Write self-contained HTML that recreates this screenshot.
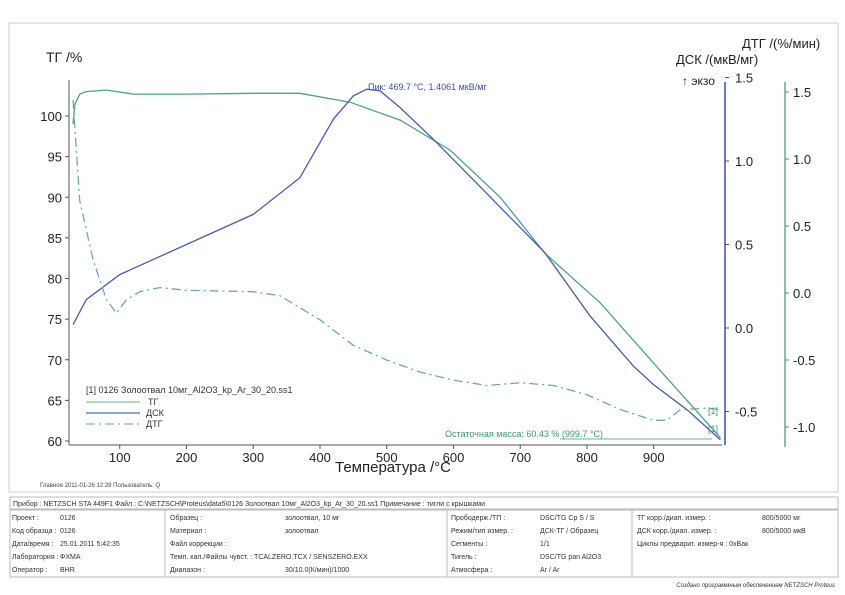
<!DOCTYPE html>
<html><head><meta charset="utf-8"><style>
body{margin:0;background:#fff;width:845px;height:595px;overflow:hidden;font-family:"Liberation Sans","DejaVu Sans",sans-serif}
svg{position:absolute;left:0;top:0}
</style></head><body>
<svg id="c" width="845" height="595" font-family="Liberation Sans, DejaVu Sans, sans-serif">
<rect x="9" y="23" width="829" height="469" fill="none" stroke="#ccc"/>
<text x="46" y="62" font-size="14" fill="#222">ТГ /%</text>
<text x="742" y="48" font-size="13" fill="#222">ДТГ /(%/мин)</text>
<text x="676" y="64" font-size="13" fill="#222">ДСК /(мкВ/мг)</text>
<text x="682" y="85" font-size="12" fill="#222">↑ экзо</text>
<text x="335" y="472" font-size="15" fill="#222">Температура /°C</text>
<text x="40" y="487" font-size="6" fill="#444">Главное   2011-01-26 12:28   Пользователь: Q</text>
<g id="axes"></g><g id="marks"></g>
<text x="368" y="90" font-size="9" fill="#3a4fa8">Пик: 469.7 °C, 1.4061 мкВ/мг</text>
<text x="445" y="437" font-size="9" fill="#3a9a7a">Остаточная масса: 60.43 % (999.7 °C)</text>
<line x1="560" y1="439" x2="712" y2="439" stroke="#3a9a7a" stroke-width="0.8"/>
<text x="708" y="414" font-size="9" fill="#3a9a7a">[1]</text>
<text x="708" y="432" font-size="9" fill="#3a9a7a">[1]</text>
<g font-size="9" fill="#333">
<text x="86" y="393">[1] 0126 Золоотвал 10мг_Al2O3_kp_Ar_30_20.ss1</text>
<line x1="86" y1="402" x2="140" y2="402" stroke="#7fc4a4" stroke-width="1.2"/><text x="148" y="405">ТГ</text>
<line x1="86" y1="413" x2="140" y2="413" stroke="#5a6ab0" stroke-width="1.2"/><text x="146" y="416">ДСК</text>
<line x1="86" y1="424" x2="140" y2="424" stroke="#7fb8a0" stroke-width="1.2" stroke-dasharray="9,4,2,4"/><text x="146" y="427">ДТГ</text>
</g>
<g font-size="7" fill="#333">
<rect x="10" y="497" width="828" height="12" fill="none" stroke="#bbb"/>
<text x="13" y="506">Прибор : NETZSCH STA 449F1  Файл : C:\NETZSCH\Proteus\data5\0126 Золоотвал 10мг_Al2O3_kp_Ar_30_20.ss1  Примечание : тигли с крышками</text>
<rect x="10" y="510" width="828" height="67" fill="none" stroke="#bbb"/>
<line x1="165" y1="510" x2="165" y2="577" stroke="#bbb"/><line x1="447" y1="510" x2="447" y2="577" stroke="#bbb"/><line x1="632" y1="510" x2="632" y2="577" stroke="#bbb"/>
<text x="12" y="520">Проект :</text><text x="60" y="520">0126</text>
<text x="12" y="533">Код образца :</text><text x="60" y="533">0126</text>
<text x="12" y="546">Дата/время :</text><text x="60" y="546">25.01.2011 5:42:35</text>
<text x="12" y="559">Лаборатория :</text><text x="60" y="559">ФХМА</text>
<text x="12" y="572">Оператор :</text><text x="60" y="572">ВНR</text>
<text x="170" y="520">Образец :</text><text x="285" y="520">золоотвал, 10 мг</text>
<text x="170" y="533">Материал :</text><text x="285" y="533">золоотвал</text>
<text x="170" y="546">Файл коррекции :</text>
<text x="170" y="559">Темп. кал./Файлы чувст. :  TCALZERO.TCX / SENSZERO.EXX</text>
<text x="170" y="572">Диапазон :</text><text x="285" y="572">30/10.0(К/мин)/1000</text>
<text x="451" y="520">Прободерж./ТП :</text><text x="540" y="520">DSC/TG Cp S / S</text>
<text x="451" y="533">Режим/тип измер. :</text><text x="540" y="533">ДСК-ТГ / Образец</text>
<text x="451" y="546">Сегменты :</text><text x="540" y="546">1/1</text>
<text x="451" y="559">Тигель :</text><text x="540" y="559">DSC/TG pan Al2O3</text>
<text x="451" y="572">Атмосфера :</text><text x="540" y="572">Ar / Ar</text>
<text x="637" y="520">ТГ корр./диап. измер. :</text><text x="762" y="520">800/5000 мг</text>
<text x="637" y="533">ДСК корр./диап. измер. :</text><text x="762" y="533">800/5000 мкВ</text>
<text x="637" y="546">Циклы предварит. измер-я : 0хВак</text>
<text x="835" y="587" font-size="6" font-style="italic" text-anchor="end">Создано программным обеспечением NETZSCH Proteus</text>
</g>
</svg>
<script>
const temps=[30,33,40,50,80,120,200,300,370,445,520,595,670,737,820,905,1000];
const tgValues=[99,101.5,102.7,103.0,103.2,102.7,102.7,102.8,102.8,101.7,99.5,95.8,90.0,83.1,77.0,69.1,60.4];
const dscTemps=[30,50,100,200,300,370,420,450,470,490,520,570,644,737,805,870,900,950,1000];
const dscValues=[0.02,0.17,0.32,0.50,0.68,0.90,1.25,1.39,1.43,1.42,1.32,1.13,0.83,0.45,0.07,-0.23,-0.34,-0.49,-0.67];
const dtgTemps=[30,40,60,80,95,110,130,160,200,300,340,400,450,500,550,600,650,700,750,800,850,900,920,940,980,1000];
const dtgValues=[1.44,0.69,0.25,-0.05,-0.15,-0.05,0.01,0.04,0.02,0.01,-0.02,-0.20,-0.39,-0.50,-0.59,-0.65,-0.69,-0.67,-0.69,-0.76,-0.87,-0.95,-0.95,-0.87,-0.86,-0.87];
const xTicks=[100,200,300,400,500,600,700,800,900];
const tgTicks=[60,65,70,75,80,85,90,95,100];
const dscTicks=[-0.5,0.0,0.5,1.0,1.5];
const dtgTicks=[-1.0,-0.5,0.0,0.5,1.0,1.5];
const X=t=>73+(t-30)*0.6675;
const Ytg=v=>441-(v-60)*8.125;
const Ydsc=v=>328-v*167;
const Ydtg=v=>293-v*134;
const NS='http://www.w3.org/2000/svg';
function mk(tag,attrs,parent){const e=document.createElementNS(NS,tag);for(const k in attrs)e.setAttribute(k,attrs[k]);parent.appendChild(e);return e;}
const ax=document.getElementById('axes'),mg=document.getElementById('marks');
let xa=mk('line',{x1:69,y1:445,x2:722,y2:445,stroke:'#555'},ax);


xTicks.forEach(t=>{mk('line',{x1:X(t),y1:445,x2:X(t),y2:449,stroke:'#555'},ax);
const tx=mk('text',{x:X(t),y:462,'font-size':13,'text-anchor':'middle',fill:'#222'},ax);tx.textContent=t;

});
let ya=mk('line',{x1:69,y1:80,x2:69,y2:445,stroke:'#555'},ax);


tgTicks.forEach(v=>{mk('line',{x1:65,y1:Ytg(v),x2:69,y2:Ytg(v),stroke:'#555'},ax);
const tx=mk('text',{x:62,y:Ytg(v)+5,'font-size':13,'text-anchor':'end',fill:'#222'},ax);tx.textContent=v;

});
let da=mk('line',{x1:725,y1:82,x2:725,y2:445,stroke:'#3a4fa8','stroke-width':1.5},ax);


dscTicks.forEach(v=>{mk('line',{x1:725,y1:Ydsc(v),x2:729,y2:Ydsc(v),stroke:'#3a4fa8'},ax);
const tx=mk('text',{x:735,y:Ydsc(v)+5,'font-size':13,fill:'#222'},ax);tx.textContent=v.toFixed(1);

});
let ga=mk('line',{x1:785,y1:82,x2:785,y2:447,stroke:'#3a9a7a','stroke-width':1.2},ax);


dtgTicks.forEach(v=>{mk('line',{x1:785,y1:Ydtg(v),x2:789,y2:Ydtg(v),stroke:'#3a9a7a'},ax);
const tx=mk('text',{x:793,y:Ydtg(v)+5,'font-size':13,fill:'#222'},ax);tx.textContent=v.toFixed(1);

});
function path(xs,ys,fy){return xs.map((t,i)=>(i?'L':'M')+X(t).toFixed(1)+','+fy(ys[i]).toFixed(1)).join(' ');}
let p1=mk('path',{d:path(temps,tgValues,Ytg),fill:'none',stroke:'#4aa384','stroke-width':1.3},mg);


let p2=mk('path',{d:path(dscTemps,dscValues,Ydsc),fill:'none',stroke:'#4a5ab0','stroke-width':1.3},mg);


let p3=mk('path',{d:path(dtgTemps,dtgValues,Ydtg),fill:'none',stroke:'#6aae94','stroke-width':1.3,'stroke-dasharray':'9,4,2,4'},mg);


</script>
</body></html>
